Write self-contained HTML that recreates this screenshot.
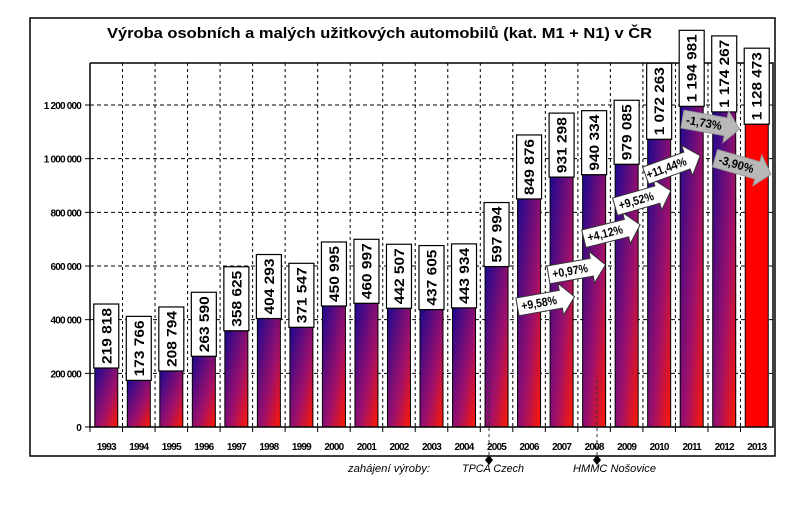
<!DOCTYPE html>
<html><head><meta charset="utf-8"><style>
body{margin:0;background:#fff;width:800px;height:511px;overflow:hidden}
text{font-family:"Liberation Sans",sans-serif}
</style></head><body>
<svg id="c" width="800" height="511" viewBox="0 0 800 511">
<defs>
<linearGradient id="bg" x1="0" y1="0" x2="1" y2="1" gradientUnits="objectBoundingBox">
<stop offset="0" stop-color="#1c0890"/><stop offset="0.6" stop-color="#a0106a"/><stop offset="1" stop-color="#ff1a00"/>
</linearGradient>
</defs>
<rect x="30" y="18" width="745" height="438" fill="#fff" stroke="#000" stroke-width="1.5"/>
<text x="107" y="38" font-size="15" font-weight="bold" textLength="545" lengthAdjust="spacingAndGlyphs">Výroba osobních a malých užitkových automobilů  (kat. M1 + N1) v ČR</text>
<g id="grid"></g><g id="bars"></g><g id="axes"></g><g id="labels"></g><g id="arrows"></g>
<text x="348" y="472" font-size="11" font-style="italic" textLength="82" lengthAdjust="spacingAndGlyphs">zahájení výroby:</text>
<text x="462" y="472" font-size="11" font-style="italic" textLength="62" lengthAdjust="spacingAndGlyphs">TPCA Czech</text>
<text x="573" y="472" font-size="11" font-style="italic" textLength="83" lengthAdjust="spacingAndGlyphs">HMMC Nošovice</text>
<line x1="489" y1="380" x2="489" y2="458" stroke="#333" stroke-dasharray="3,3"/>
<line x1="597" y1="380" x2="597" y2="458" stroke="#333" stroke-dasharray="3,3"/>
<path d="M489 455 l4 5 l-4 5 l-4 -5z" fill="#000"/>
<path d="M597 455 l4 5 l-4 5 l-4 -5z" fill="#000"/>
</svg>
<script>
const years=["1993","1994","1995","1996","1997","1998","1999","2000","2001","2002","2003","2004","2005","2006","2007","2008","2009","2010","2011","2012","2013"];
const values=[219818,173766,208794,263590,358625,404293,371547,450995,460997,442507,437605,443934,597994,849876,931298,940334,979085,1072263,1194981,1174267,1128473];
const yTicks=[0,200000,400000,600000,800000,1000000,1200000];
const yTickLabels=["0","200 000","400 000","600 000","800 000","1 000 000","1 200 000"];
const changeLabels=["+9,58%","+0,97%","+4,12%","+9,52%","+11,44%","-1,73%","-3,90%"];
const changeYears=["2007","2008","2009","2010","2011","2012","2013"];
const NS="http://www.w3.org/2000/svg";
const L=90,R=773,T=63,B=427;
const bw=(R-L)/years.length;
const x=i=>L+bw*i;
const y=v=>B-v/1200000*(B-105);
function mk(tag,attrs,parent){const e=document.createElementNS(NS,tag);for(const k in attrs)e.setAttribute(k,attrs[k]);document.getElementById(parent).appendChild(e);return e;}
const fmt=v=>String(v).replace(/\B(?=(\d{3})+(?!\d))/g," ");
// grid
for(let i=1;i<years.length;i++){const g=mk("line",{x1:x(i),x2:x(i),y1:T,y2:B,stroke:"#000","stroke-dasharray":"3,3"},"grid");

}
yTicks.forEach((t,i)=>{if(t>0){const g=mk("line",{x1:L,x2:R,y1:y(t),y2:y(t),stroke:"#000","stroke-dasharray":"4,3"},"grid");

}
const tl=mk("text",{x:81,y:y(t)+4,"font-size":10,"font-weight":"bold","text-anchor":"end","letter-spacing":"-0.8"},"axes");tl.textContent=yTickLabels[i];


const tk=mk("line",{x1:L-5,x2:L,y1:y(t),y2:y(t),stroke:"#000"},"axes");

});
const ax=mk("path",{d:`M${L} ${T}V${B}H${R}V${T}H${L}`,fill:"none",stroke:"#000","stroke-width":1.5},"axes");


years.forEach((yr,i)=>{
 const cx=x(i)+bw/2,top=y(values[i]);
 const b=mk("rect",{x:cx-11.5,y:top,width:23,height:B-top,fill:i===years.length-1?"#ff0000":"url(#bg)",stroke:"#000","stroke-width":1},"bars");
 
 
 const tk=mk("line",{x1:x(i),x2:x(i),y1:B,y2:B+5,stroke:"#000"},"axes");
 
 
 const yl=mk("text",{x:cx,y:450,"font-size":10,"font-weight":"bold","text-anchor":"middle","letter-spacing":"-0.8"},"axes");yl.textContent=yr;
 
 
 const s=fmt(values[i]);const h=s.length>7?76:64;
 const bx=mk("rect",{x:cx-12.5,y:top-h,width:25,height:h,fill:"#fff",stroke:"#000","stroke-width":1.2},"labels");
 
 
 const tx=mk("text",{x:0,y:0,"font-size":14,"font-weight":"bold","text-anchor":"middle",transform:`translate(${cx+5},${top-h/2}) rotate(-90)`,textLength:h-8,lengthAdjust:"spacingAndGlyphs"},"labels");tx.textContent=s;
 
 
});
// change arrows placed between bars (pos = year index), rotation from sign
const arrowPos=[[545,302,-10],[576,270,-10],[611,232,-14],[642,199,-16],[672,166,-20],[710,124,10],[742,166,16]];
changeLabels.forEach((c,i)=>{
 const [ax_,ay,rot]=arrowPos[i];const neg=c[0]==="-";
 const g=mk("g",{transform:`translate(${ax_},${ay}) rotate(${rot})`},"arrows");
 
 
 const p=mk("path",{d:"M-28 -9H16V-16L30 0L16 16V9H-28Z",fill:neg?"#b8b8b8":"#fff",stroke:neg?"#999":"#333","stroke-width":1},"arrows");
 g.appendChild(p);
 
 
 const t=mk("text",{x:-6,y:4,"font-size":12,"font-weight":"bold","text-anchor":"middle",textLength:c.length>6?42:36,lengthAdjust:"spacingAndGlyphs"},"arrows");t.textContent=c;
 g.appendChild(t);
 
 
});
</script>
</body></html>
